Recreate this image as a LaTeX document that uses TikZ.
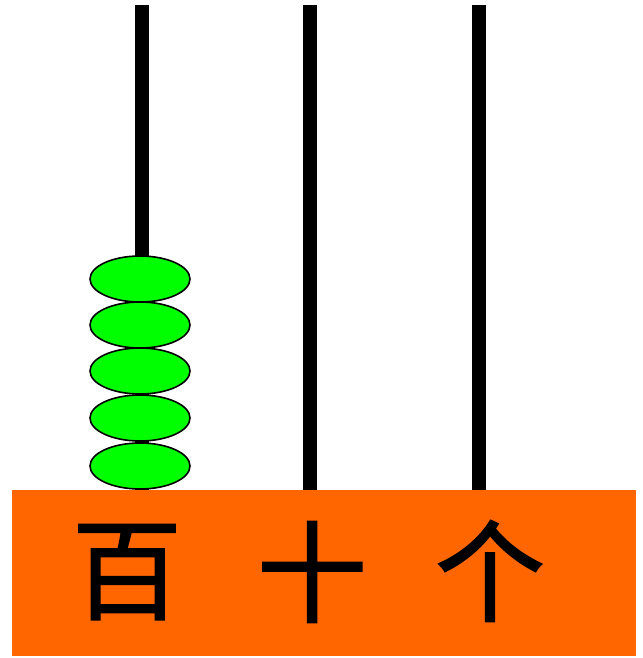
\documentclass[tikz,border=0pt]{standalone}
\usepackage{fontspec}
\newfontfamily\cjk{Noto Sans CJK SC}[FakeBold=1.5]
\usetikzlibrary{shapes.geometric}
\definecolor{baseorange}{HTML}{FF6600}
\definecolor{beadgreen}{HTML}{00FF00}
\tikzset{
  rod/.style={line width=14pt},
  bead/.style={ellipse, draw, line width=1.6pt, fill=beadgreen, minimum width=100pt, minimum height=46pt, inner sep=0pt},
  digit/.style={font=\cjk\fontsize{110}{110}\selectfont, inner sep=0pt}
}
\begin{document}
\begin{tikzpicture}[x=1pt,y=-1pt]
\useasboundingbox (0,0) rectangle (642,658);
\fill[baseorange] (12,490) rectangle (636,656);
\foreach \n/\x in {bai/142,shi/310,ge/479} {
  \coordinate (\n top) at (\x,5);
  \coordinate (\n bot) at (\x,490);
  \draw[rod] (\n top) -- (\n bot);
}
\foreach \i/\y in {1/279,2/325,3/371,4/418,5/466}
  \node[bead] (bead\i) at (140,\y) {};
\node[digit] (lbai) at (127,572) {百};
\node[digit] (lshi) at (312,572) {十};
\node[digit] (lge) at (490,571) {个};
\end{tikzpicture}
\end{document}
